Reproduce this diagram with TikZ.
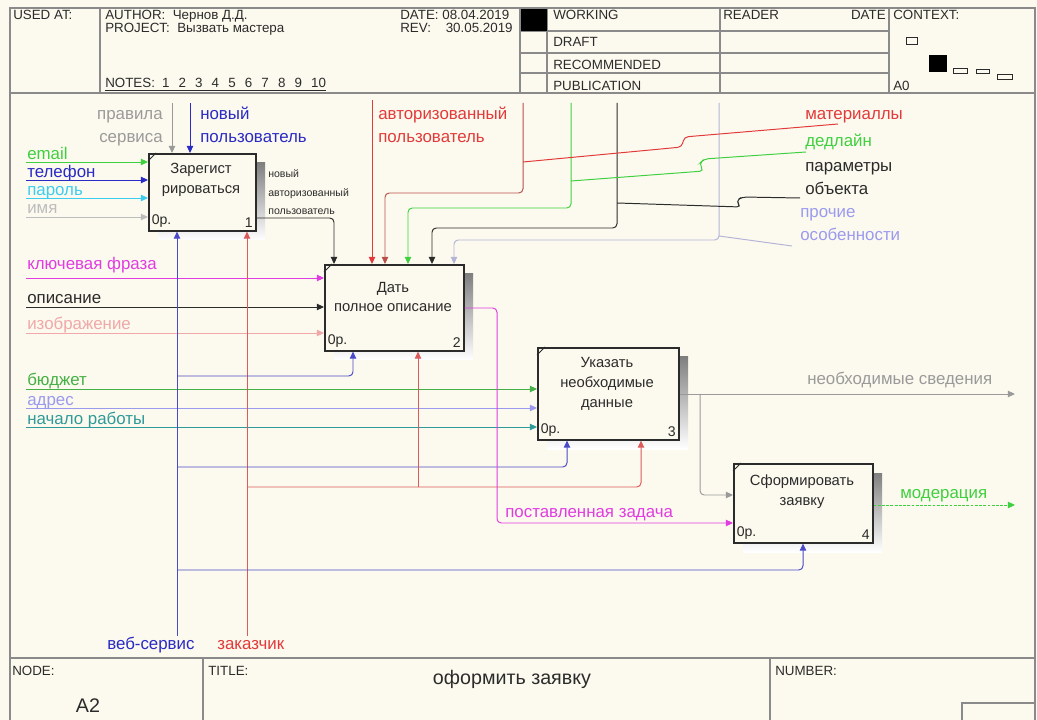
\documentclass[tikz,border=0pt]{standalone}
\usepackage{fontspec}
\setmainfont{Liberation Sans}
\usetikzlibrary{arrows.meta}
\definecolor{paper}{HTML}{FCFAEE}
\definecolor{frame}{HTML}{8A8A8A}
\definecolor{shade}{HTML}{B4B4B4}
\definecolor{ink}{HTML}{2B2B2B}
\definecolor{cblue}{HTML}{2A2AC4}
\definecolor{lblue}{HTML}{4A4AC8}
\definecolor{cred}{HTML}{E23A3A}
\definecolor{lred}{HTML}{DC5A5A}
\definecolor{cbrown}{HTML}{B8504A}
\definecolor{cgreen}{HTML}{3FCF3F}
\definecolor{cgrass}{HTML}{45B045}
\definecolor{ccyan}{HTML}{3CCDF0}
\definecolor{cgray}{HTML}{9A9A9A}
\definecolor{cpale}{HTML}{BDBDBD}
\definecolor{cmist}{HTML}{B4B4D8}
\definecolor{cmag}{HTML}{E03CE0}
\definecolor{cpink}{HTML}{F0A8A8}
\definecolor{clav}{HTML}{9A9AEE}
\definecolor{cteal}{HTML}{2F9A9A}

\begin{document}
\begin{tikzpicture}[x=0.025cm,y=-0.025cm,>={Triangle[length=5pt,width=4.5pt]},
  box/.style={draw=ink,line width=1.1pt,fill=paper,anchor=north west,inner sep=0pt},
  btxt/.style={font=\fontsize{10.5}{14.2}\selectfont,align=center,inner sep=0pt,text=ink},
  ctxt/.style={font=\fontsize{10}{12}\selectfont,inner sep=2.5pt,text=ink},
  arr/.style={->,line width=0.7pt,rounded corners=3pt},
  wire/.style={line width=0.7pt,rounded corners=3pt},
  lbl/.style={font=\fontsize{12}{16.4}\selectfont,inner sep=0pt,anchor=base west},
  hdr/.style={font=\fontsize{9.5}{11}\selectfont,inner sep=0pt,anchor=base west,text=ink}]
  \useasboundingbox (0,0) rectangle (1037,720);
  \fill[paper] (0,0) rectangle (1037,720);

  % frame, header and footer
  \draw[frame,line width=1pt] (10,720) -- (10,8) -- (1035,8) -- (1035,720);
  \draw[frame,line width=1pt] (10,93) -- (1035,93);
  \draw[frame,line width=1pt] (10,658) -- (1035,658);
  \draw[frame,line width=0.8pt] (100,8) -- (100,93);
  \draw[frame,line width=0.8pt] (520,8) -- (520,93);
  \draw[frame,line width=0.8pt] (547,8) -- (547,93);
  \draw[frame,line width=0.8pt] (720,8) -- (720,93);
  \draw[frame,line width=0.8pt] (889,8) -- (889,93);
  \draw[frame,line width=0.8pt] (520,31) -- (889,31);
  \draw[frame,line width=0.8pt] (520,53) -- (889,53);
  \draw[frame,line width=0.8pt] (520,73) -- (889,73);
  \fill[black] (521,9) rectangle (547,31);
  \draw[frame,line width=0.8pt] (203,658) -- (203,720);
  \draw[frame,line width=0.8pt] (770,658) -- (770,720);
  \draw[frame,line width=0.8pt] (962,720) -- (962,703) -- (1035,703);

  \node[hdr] (hused) at (13,20) {USED AT:};
  \node[hdr] (hauthor) at (105,20) {AUTHOR:\ \ Чернов Д.Д.};
  \node[hdr] (hproject) at (105,33) {PROJECT:\ \ Вызвать мастера};
  \node[hdr] (hnotes) at (105,88) {\underline{NOTES:\hspace{5pt}1\hspace{6.5pt}2\hspace{6.5pt}3\hspace{6.5pt}4\hspace{6.5pt}5\hspace{6.5pt}6\hspace{6.5pt}7\hspace{6.5pt}8\hspace{6.5pt}9\hspace{6.5pt}10}};
  \node[hdr] (hdate) at (400,20) {DATE:\ 08.04.2019};
  \node[hdr] (hrev) at (400,33) {REV:\ \ \ \ 30.05.2019};
  \node[hdr] (hwork) at (553,20) {WORKING};
  \node[hdr] (hdraft) at (553,47) {DRAFT};
  \node[hdr] (hrec) at (553,70) {RECOMMENDED};
  \node[hdr] (hpub) at (553,91) {PUBLICATION};
  \node[hdr] (hreader) at (723,20) {READER};
  \node[hdr,anchor=base east] (hrdate) at (886,20) {DATE};
  \node[hdr] (hctx) at (893,20) {CONTEXT:};
  \node[hdr] (ha0) at (893,91) {A0};
  \draw[ink,line width=0.5pt] (906,37) rectangle (917,44);
  \fill[black] (929,55) rectangle (947,72);
  \draw[ink,line width=0.5pt] (953,68) rectangle (967,73);
  \draw[ink,line width=0.5pt] (976,69) rectangle (989,73);
  \draw[ink,line width=0.5pt] (997,74) rectangle (1012,79);

  \node[hdr] (fnode) at (12,675) {NODE:};
  \node[font=\fontsize{14}{16}\selectfont,text=ink] (fa2) at (88,706) {A2};
  \node[hdr] (ftitle) at (208,675) {TITLE:};
  \node[font=\fontsize{14}{16}\selectfont,text=ink] (fname) at (512,679) {оформить заявку};
  \node[hdr] (fnum) at (775,675) {NUMBER:};

  % shadows and activity boxes
  \fill[shade] (158,163) rectangle (265,240);
  \fill[shade] (334,274) rectangle (473,360);
  \fill[shade] (547,357) rectangle (688,449);
  \fill[shade] (743,473) rectangle (882,552);
  \node[box,minimum width=2.675cm,minimum height=1.925cm] (b1) at (148,153) {};
  \node[box,minimum width=3.475cm,minimum height=2.15cm] (b2) at (324,264) {};
  \node[box,minimum width=3.525cm,minimum height=2.3cm] (b3) at (537,347) {};
  \node[box,minimum width=3.475cm,minimum height=1.975cm] (b4) at (733,463) {};
  \foreach \b in {b1,b2,b3,b4}
    \draw[ink,line width=0.6pt] ([shift={(0,8)}]\b.north west) -- ([shift={(8,0)}]\b.north west);

  \node[btxt] (b1t) at (201,180) {Зарегист\\рироваться};
  \node[btxt] (b2t) at (393,297) {Дать\\полное описание};
  \node[btxt] (b3t) at (607,384) {Указать\\необходимые\\данные};
  \node[btxt] (b4t) at (802,492) {Сформировать\\заявку};
  \node[ctxt,anchor=south west] (b1o) at (b1.south west) {0р.};
  \node[ctxt,anchor=south east] (b1n) at (b1.south east) {1};
  \node[ctxt,anchor=south west] (b2o) at (b2.south west) {0р.};
  \node[ctxt,anchor=south east] (b2n) at (b2.south east) {2};
  \node[ctxt,anchor=south west] (b3o) at (b3.south west) {0р.};
  \node[ctxt,anchor=south east] (b3n) at (b3.south east) {3};
  \node[ctxt,anchor=south west] (b4o) at (b4.south west) {0р.};
  \node[ctxt,anchor=south east] (b4n) at (b4.south east) {4};

  % arrow labels (base of a wrapped label = its last line)
  \node[lbl,anchor=base east,align=right,text=cgray] (lrules) at (163,143) {правила\\сервиса};
  \node[lbl,align=left,text=cblue] (lnewuser) at (200,143) {новый\\пользователь};
  \node[lbl,text=cgreen] (lemail) at (27,160) {email};
  \node[lbl,text=cblue] (ltel) at (27,178) {телефон};
  \node[lbl,text=ccyan] (lpass) at (27,196) {пароль};
  \node[lbl,text=cpale] (lname) at (27,214) {имя};
  \node[lbl,text=cmag] (lkey) at (27,270) {ключевая фраза};
  \node[lbl,text=ink] (ldesc) at (27,304) {описание};
  \node[lbl,text=cpink] (limg) at (27,330) {изображение};
  \node[lbl,text=cgrass] (lbudget) at (27,386) {бюджет};
  \node[lbl,text=clav] (laddr) at (27,405) {адрес};
  \node[lbl,text=cteal] (lstart) at (27,424) {начало работы};
  \node[lbl,align=left,text=cred] (lauth) at (378,143) {авторизованный\\пользователь};
  \node[lbl,text=cred] (lmat) at (805,120) {материаллы};
  \node[lbl,text=cgreen] (ldead) at (805,147) {дедлайн};
  \node[lbl,align=left,text=ink] (lparam) at (805,195) {параметры\\объекта};
  \node[lbl,align=left,text=clav] (lother) at (800,241) {прочие\\особенности};
  \node[lbl,text=cgray] (lneed) at (807,385) {необходимые сведения};
  \node[lbl,text=cgreen] (lmod) at (900,498) {модерация};
  \node[lbl,text=cmag] (ltask) at (505,517) {поставленная задача};
  \node[lbl,text=cblue] (lweb) at (107,649) {веб-сервис};
  \node[lbl,text=cred] (lclient) at (217,649) {заказчик};
  \node[lbl,align=left,text=ink,font=\fontsize{7.5}{13.2}\selectfont] (lout) at (268,215) {новый\\авторизованный\\пользователь};

  % end points
  \coordinate (iemail) at (26,162);
  \coordinate (itel) at (26,180);
  \coordinate (ipass) at (26,198);
  \coordinate (iname) at (26,217);
  \coordinate (ikey) at (26,278);
  \coordinate (idesc) at (26,307);
  \coordinate (iimg) at (26,333);
  \coordinate (ibudget) at (26,389);
  \coordinate (iaddr) at (26,408);
  \coordinate (istart) at (26,427);
  \coordinate (crules) at (172,103);
  \coordinate (cnew) at (190,103);
  \coordinate (cauth) at (372,100);
  \coordinate (tmat) at (523,103);
  \coordinate (tdead) at (571,103);
  \coordinate (tparam) at (617,103);
  \coordinate (tother) at (719,103);
  \coordinate (c2o) at ([shift={(10,0)}]b2.north west);
  \coordinate (c2r) at ([shift={(61,0)}]b2.north west);
  \coordinate (c2g) at ([shift={(84,0)}]b2.north west);
  \coordinate (c2k) at ([shift={(108,0)}]b2.north west);
  \coordinate (c2l) at ([shift={(130,0)}]b2.north west);
  \coordinate (web) at (177,636);
  \coordinate (client) at (247,636);
  \coordinate (m2b) at ([shift={(29,0)}]b2.south west);
  \coordinate (m2r) at ([shift={(94,0)}]b2.south west);
  \coordinate (m3b) at ([shift={(30,0)}]b3.south west);
  \coordinate (m3r) at ([shift={(104,0)}]b3.south west);
  \coordinate (m4b) at ([shift={(70,0)}]b4.south west);
  \coordinate (oneed) at (1015,394);
  \coordinate (omod) at (1015,505);

  % inputs
  \draw[arr,cgreen] (iemail) -- (iemail -| b1.west);
  \draw[arr,cblue] (itel) -- (itel -| b1.west);
  \draw[arr,ccyan] (ipass) -- (ipass -| b1.west);
  \draw[arr,cpale] (iname) -- (iname -| b1.west);
  \draw[arr,cmag] (ikey) -- (ikey -| b2.west);
  \draw[arr,ink] (idesc) -- (idesc -| b2.west);
  \draw[arr,cpink] (iimg) -- (iimg -| b2.west);
  \draw[arr,cgrass] (ibudget) -- (ibudget -| b3.west);
  \draw[arr,clav] (iaddr) -- (iaddr -| b3.west);
  \draw[arr,cteal] (istart) -- (istart -| b3.west);

  % controls
  \draw[arr,cgray] (crules) -- (crules |- b1.north);
  \draw[arr,cblue] (cnew) -- (cnew |- b1.north);
  \draw[arr,ink] (b1.east |- 0,218) -| (c2o);
  \draw[arr,cred] (cauth) -- (cauth |- b2.north);
  \draw[arr,cbrown] (tmat) -- (tmat |- 0,193) -| (c2r);
  \draw[arr,cgreen] (tdead) -- (tdead |- 0,208) -| (c2g);
  \draw[arr,ink] (tparam) -- (tparam |- 0,228) -| (c2k);
  \draw[arr,cmist] (tother) -- (tother |- 0,240) -| (c2l);
  \draw[wire,cred] (838,124) -- (684,137) -- (682,147) -- (tmat |- 0,162);
  \draw[wire,cgreen] (806,152) -- (704,159) -- (699,164) -- (704,171) -- (tdead |- 0,181);
  \draw[wire,ink] (800,198) -- (742,197) -- (736,201) -- (741,207) -- (tparam |- 0,203);
  \draw[wire,cmist] (792,246) -- (tother |- 0,236);

  % mechanisms
  \draw[arr,lblue] (web) -- (web |- b1.south);
  \draw[arr,lred] (client) -- (client |- b1.south);
  \draw[arr,lblue] (web |- 0,376) -| (m2b);
  \draw[arr,lblue] (web |- 0,467) -| (m3b);
  \draw[arr,lblue] (web |- 0,570) -| (m4b);
  \draw[arr,lred] (client |- 0,487) -| (m3r);
  \draw[arr,lred] (m2r |- 0,487) -- (m2r);

  % outputs
  \draw[arr,cmag] (b2.east |- 0,308) -| (497,523) -- (b4.west |- 0,523);
  \draw[arr,cgray] (b3.east |- 0,394) -- (oneed);
  \draw[arr,cgray] (700,394) |- (b4.west |- 0,495);
  \draw[arr,cgreen,dash pattern=on 2pt off 1pt] (b4.east |- 0,505) -- (omod);
\end{tikzpicture}
\end{document}
